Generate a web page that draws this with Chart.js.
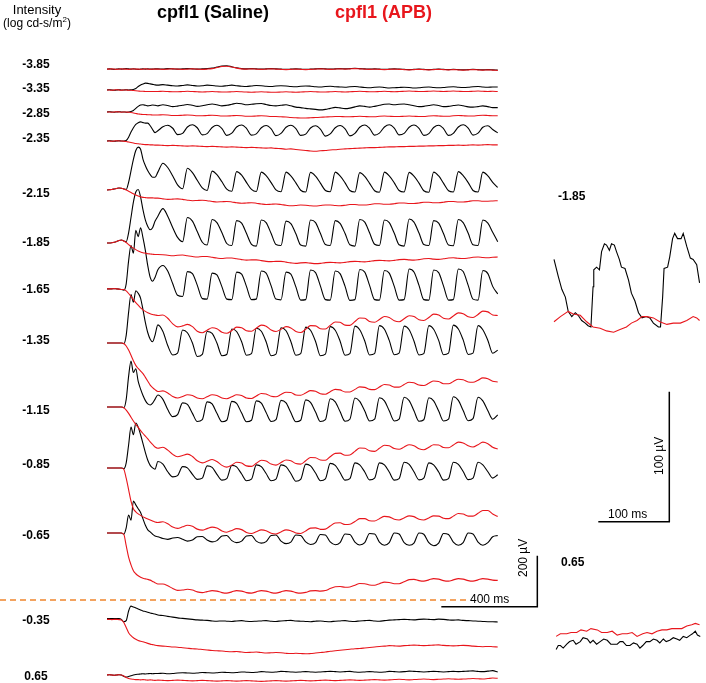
<!DOCTYPE html>
<html><head><meta charset="utf-8">
<script src="https://cdn.jsdelivr.net/npm/chart.js@4.4.1/dist/chart.umd.min.js"></script>
<style>
html,body{margin:0;padding:0;background:#fff;}
#wrap{position:relative;width:706px;height:683px;overflow:hidden;font-family:"Liberation Sans",Arial,sans-serif;color:#000;}
canvas{position:absolute;left:0;top:0;}
.t{position:absolute;white-space:nowrap;}
.rowlbl{position:absolute;left:0;width:72px;text-align:center;font-weight:bold;font-size:12px;line-height:12px;}
</style></head>
<body><div id="wrap">
<canvas id="main" width="706" height="683"></canvas>
<canvas id="inset" width="706" height="683"></canvas>
</div>
<script>
// ---------------- DATA ----------------
// sample times (ms) of the main traces
const t = [0,10,20,30,40,50,60,70,80,90,100,110,120,130,140,150,160,170,180,190,200,
212,233,253,274,294,315,335,356,376,397,417,438,458,479,499,520,540,561,581,602,622,643,663,684,704,725,746,766,787,807,828,848,869,889,910,930,951,971,992,1012,1033,1053,1074,1094,1115,1135,1156,1176,1197,1217,1238,1259,1279,1300,1320,1341,1361,1382,1402,1423,1443,1464,1484,1505,1525,1546,1566,1587,1607,1628];

// intensity labels (log cd-s/m2) and the baseline of each trace pair (µV)
const intensities = ['-3.85','-3.35','-2.85','-2.35','-2.15','-1.85','-1.65','-1.35','-1.15','-0.85','-0.65','-0.35','0.65'];
const offsets = [-271,-353,-439,-553,-745,-953,-1133,-1345,-1596,-1835,-2090,-2426,-2647];

// responses (µV relative to baseline), Saline (black) and APB (red)
const sal_m385 = [0,1,0,-1,0,1,0,1,2,1,0,1,0,-1,0,1,0,1,0,0,1, 1,0,2,1,0,1,2,1,0,1, 2,4,8,12,13,9,5,2,1,2, 1,0,1,2,1,0,-1,0,1,0, -1,0,1,2,1,0,1,2,1,2, 3,2,1,0,1,0,-1,0,1,0, -1,-2,-1,0,-1,-2,-1,0,-1,-2, -1,-2,-3,-2,-1,-2,-3,-2,-3,-4];
const apb_m385 = [0,0,1,0,-1,0,1,0,0,-1,0,1,0,0,-1,0,1,0,-1,0,0, 0,-1,0,1,0,-1,0,1,0,-1, 0,2,6,10,11,8,4,1,0,1, 0,-1,0,1,0,-1,-2,-1,0,-1, -2,-1,0,1,0,-1,0,1,0,1, 2,1,0,-1,0,-1,-2,-1,0,-1, -2,-3,-2,-1,-2,-3,-2,-1,-2,-3, -2,-3,-4,-3,-2,-3,-4,-3,-4,-5];
const sal_m335 = [0,1,0,-1,0,1,0,0,1,0,1,2,6,14,20,24,27,26,24,22,20, 19,21,19,17,16,18,20,18,16,17, 19,18,16,15,17,19,17,15,14,16, 18,17,15,14,16,17,16,14,13,15, 16,15,13,12,14,15,13,12,11,13, 14,12,10,9,11,12,10,8,9,10, 11,10,8,9,11,12,10,9,10,12, 13,11,10,11,13,14,12,11,12,12];
const apb_m335 = [0,0,-1,0,1,0,-1,0,0,-1,-1,-2,-3,-4,-5,-5,-6,-6,-6,-6,-6, -6,-5,-6,-7,-7,-6,-5,-6,-7,-8, -7,-6,-7,-8,-8,-7,-6,-7,-8,-9, -8,-7,-8,-9,-9,-8,-7,-8,-9,-8, -7,-6,-7,-8,-8,-7,-6,-7,-8,-7, -6,-5,-6,-7,-7,-6,-5,-6,-7,-6, -5,-4,-5,-6,-6,-5,-4,-5,-6,-5, -4,-5,-6,-6,-5,-4,-5,-6,-5,-6];
const sal_m285 = [0,1,0,-1,0,1,0,0,-1,0,2,6,14,22,27,28,26,24,25,27,26, 24,28,25,21,23,26,29,26,22,24, 28,31,28,24,26,30,34,32,28,30, 32,33,29,25,24,26,28,24,19,17, 14,12,10,8,10,14,18,16,13,15, 20,24,22,19,22,26,30,31,28,30, 31,28,24,21,22,25,28,25,21,22, 25,27,24,20,19,21,24,21,17,17];
const apb_m285 = [0,0,-1,0,1,0,-1,0,0,-1,-2,-4,-6,-8,-9,-10,-10,-11,-11,-12,-12, -12,-11,-12,-14,-14,-13,-12,-13,-15,-15, -14,-13,-14,-16,-16,-15,-14,-15,-17,-17, -16,-15,-16,-18,-18,-19,-20,-22,-23,-24, -24,-23,-22,-21,-20,-19,-18,-18,-19,-19, -18,-17,-18,-19,-19,-17,-16,-17,-18,-18, -17,-16,-17,-18,-18,-16,-15,-16,-17,-17, -15,-14,-15,-16,-16,-14,-13,-14,-15,-15];
const sal_m235 = [0,1,0,-1,0,1,0,0,2,15,35,52,65,72,75,72,70,70,60,45,33, 40,56,62,50,25, 30,55,64,52,24, 29,53,62,49,22, 31,55,63,50,23, 28,52,61,48,21, 30,54,62,49,22, 27,51,60,47,19, 28,52,61,48,20, 30,54,63,50,23, 31,55,64,51,24, 30,54,63,50,22, 29,53,62,49,22, 30,55,64,51,23, 31,54,60,45,32];
const apb_m235 = [0,0,-1,0,1,0,0,-1,-2,-4,-6,-8,-10,-11,-12,-13,-14,-14,-15,-15,-16, -16,-17,-18,-17,-18,-19,-20,-19,-20,-21, -22,-21,-22,-23,-24,-23,-24,-25,-26,-25, -26,-27,-28,-27,-29,-30,-32,-31,-33,-35, -37,-39,-40,-38,-37,-35,-34,-32,-31,-30, -29,-28,-27,-26,-26,-25,-24,-23,-23,-22, -22,-21,-21,-20,-20,-19,-19,-18,-18,-17, -17,-16,-17,-16,-15,-16,-15,-14,-15,-15];
const sal_m215 = [0,1,2,4,6,8,7,4,2,30,75,120,155,168,160,120,95,75,60,50,50, 70,105,88,55,20, 5,85,68,38,8, -2,74,60,32,3, -5,72,58,30,2, -6,70,56,29,0, -7,70,55,28,-1, -8,69,54,27,-2, -7,70,55,28,-2, -8,68,53,26,-3, -9,70,55,28,-2, -8,69,54,27,-3, -9,70,55,27,-3, -8,72,56,29,-2, -8,70,55,30,10];
const apb_m215 = [0,1,2,4,6,8,7,4,0,-5,-10,-15,-20,-24,-27,-29,-30,-31,-31,-31,-32, -32,-35,-37,-36,-35,-37,-40,-42,-41,-40, -42,-45,-47,-46,-45,-47,-50,-52,-51,-50, -52,-55,-57,-56,-55,-57,-60,-62,-61,-59, -60,-62,-63,-61,-59,-59,-61,-62,-60,-57, -57,-59,-59,-57,-54,-54,-56,-56,-54,-51, -51,-53,-53,-51,-48,-48,-50,-50,-48,-45, -45,-47,-47,-45,-42,-42,-44,-44,-43,-42];
const sal_m185 = [0,0,1,3,6,10,12,8,5,40,100,160,200,210,180,130,90,65,52,60,85, 105,135,105,60,22, 5,100,86,45,3, -8,92,80,40,-2, -10,88,78,38,-5, -12,90,80,37,-6, -10,86,76,36,-8, -12,90,80,38,-6, -10,88,77,37,-7, -12,92,82,40,-5, -10,90,80,38,-7, -12,94,82,39,-6, -10,88,78,37,-8, -11,92,80,38,-7, -10,90,78,42,5];
const apb_m185 = [0,0,1,3,6,10,12,8,2,-6,-14,-20,-26,-31,-35,-38,-40,-42,-43,-44,-45, -45,-46,-48,-50,-48,-47,-50,-53,-55,-53, -53,-56,-59,-61,-59,-59,-62,-65,-67,-66, -66,-69,-72,-73,-72,-72,-75,-78,-80,-78, -77,-79,-81,-80,-77,-76,-77,-78,-76,-73, -72,-73,-74,-72,-69,-68,-69,-70,-68,-65, -64,-66,-67,-65,-62,-61,-63,-64,-62,-59, -58,-60,-61,-59,-56,-55,-57,-58,-56,-55];
const sal_m165 = [0,0,0,1,0,-1,-2,-5,20,110,170,140,230,205,240,200,150,90,45,30,45, 75,92,70,20,-25, -30,68,60,15,-38, -40,62,55,8,-40, -42,66,58,10,-42, -40,70,62,12,-40, -43,66,58,8,-44, -42,74,64,12,-42, -44,70,60,10,-45, -42,76,66,14,-42, -44,72,62,10,-44, -42,78,66,14,-42, -44,74,64,12,-44, -42,78,68,14,-40, -44,72,60,10,-20];
const apb_m165 = [0,0,0,1,0,-1,-2,-2,-8,-18,-30,-42,-54,-64,-74,-82,-88,-93,-97,-100,-102, -104,-102,-115,-137,-149, -145,-139,-148,-166,-172, -162,-152,-156,-170,-174, -163,-150,-152,-164,-166, -154,-142,-146,-161,-167, -158,-148,-153,-167,-171, -158,-144,-145,-156,-157, -143,-130,-131,-142,-143, -128,-114,-115,-128,-131, -120,-108,-112,-125,-129, -117,-105,-108,-121,-124, -112,-99,-102,-115,-118, -106,-94,-97,-109,-112, -100,-87,-90,-102,-104];
const sal_m135 = [0,0,0,0,0,0,0,-3,30,120,190,160,205,195,175,130,80,40,15,5,30, 71,45,-10,-47,-40, 51,40,0,-53,-45, 45,38,0,-50,-45, 55,45,5,-48,-42, 58,46,5,-50,-44, 60,48,6,-48,-42, 62,50,6,-50,-44, 64,50,8,-48,-42, 66,52,8,-47,-42, 68,54,10,-46,-40, 66,52,8,-47,-42, 68,54,10,-46,-40, 70,55,12,-45,-40, 68,52,10,-40,-28];
const apb_m135 = [0,0,0,0,0,0,0,-2,-12,-28,-48,-70,-88,-100,-110,-120,-135,-150,-165,-175,-183, -190,-188,-196,-210,-216, -210,-203,-206,-216,-219, -211,-203,-206,-216,-219, -211,-203,-206,-216,-218, -208,-198,-200,-209,-211, -202,-193,-194,-204,-205, -196,-187,-189,-199,-201, -191,-182,-184,-192,-192, -182,-172,-174,-182,-183, -173,-163,-165,-173,-173, -163,-154,-156,-165,-167, -158,-149,-151,-160,-160, -151,-142,-144,-153,-154, -146,-137,-140,-150,-153];
const sal_m115 = [0,0,0,0,0,0,0,-3,30,120,180,135,150,100,70,45,25,12,8,15,30, 47,30,-10,-38,-30, 16,10,-25,-57,-50, 20,12,-25,-58,-52, 22,14,-24,-58,-52, 24,15,-22,-57,-50, 26,16,-22,-58,-52, 28,18,-20,-57,-50, 32,20,-18,-56,-48, 35,22,-16,-55,-48, 36,24,-15,-55,-48, 38,25,-15,-56,-50, 36,24,-16,-55,-48, 40,26,-14,-54,-46, 38,24,-15,-48,-31];
const apb_m115 = [0,0,0,0,0,0,0,-3,-12,-25,-40,-55,-68,-80,-93,-104,-114,-125,-137,-147,-157, -162,-158,-169,-186,-195, -190,-185,-194,-211,-219, -213,-206,-214,-229,-236, -228,-217,-220,-231,-233, -221,-209,-212,-224,-228, -218,-208,-211,-222,-224, -211,-198,-199,-208,-209, -195,-182,-181,-189,-188, -174,-161,-162,-172,-174, -162,-150,-152,-163,-166, -157,-148,-152,-164,-168, -158,-148,-149,-159,-160, -149,-138,-141,-152,-157, -148,-138,-144,-158,-165];
const sal_m085 = [0,0,0,0,0,0,0,-3,20,90,160,130,176,160,130,95,60,30,10,0,-5, 25,15,-15,-35,-30, 5,0,-25,-45,-40, 8,2,-25,-48,-42, 10,4,-24,-50,-44, 12,5,-22,-50,-44, 12,5,-22,-52,-45, 15,8,-20,-50,-43, 18,10,-18,-48,-42, 20,12,-16,-47,-40, 20,12,-16,-48,-42, 22,14,-15,-47,-40, 20,12,-16,-48,-42, 22,14,-14,-46,-40, 22,12,-15,-40,-27];
const apb_m085 = [0,0,0,0,0,0,0,-5,-40,-85,-130,-160,-172,-180,-186,-192,-196,-200,-204,-208,-212, -214,-211,-219,-232,-237, -231,-225,-229,-240,-244, -238,-232,-236,-247,-252, -245,-238,-242,-253,-257, -250,-243,-246,-256,-259, -251,-243,-246,-255,-257, -247,-236,-235,-241,-240, -228,-216,-215,-222,-221, -210,-199,-199,-207,-208, -199,-190,-192,-201,-204, -196,-188,-191,-201,-204, -196,-188,-189,-197,-199, -189,-179,-181,-189,-189, -178,-167,-167,-181,-190];
const sal_m065 = [0,0,0,0,0,0,0,-5,20,70,50,125,110,95,80,55,30,12,4,-5,-12, -15,-22,-25,-20,-18, -25,-32,-28,-15,-14, -28,-35,-30,-12,-10, -30,-38,-32,-12,-10, -32,-40,-34,-10,-8, -32,-42,-36,-8,-10, -35,-45,-38,-6,-8, -35,-46,-38,-4,-6, -36,-47,-38,-2,-4, -36,-48,-38,0,-4, -38,-48,-40,0,-5, -38,-50,-40,-2,-6, -36,-48,-38,0,-4, -36,-48,-38,-15,-10];
const apb_m065 = [0,0,0,0,0,0,0,-5,-50,-95,-125,-148,-160,-168,-174,-178,-180,-182,-185,-190,-195, -200,-200,-207,-218,-225, -224,-221,-224,-231,-234, -230,-226,-228,-234,-236, -231,-226,-228,-234,-236, -231,-226,-228,-234,-236, -231,-226,-228,-234,-236, -233,-227,-226,-228,-226, -218,-211,-210,-213,-212, -205,-198,-199,-204,-205, -199,-193,-194,-199,-199, -191,-183,-182,-187,-189, -184,-179,-181,-187,-189, -184,-179,-181,-187,-189, -184,-179,-181,-185,-186];
const sal_m035 = [0,0,0,0,0,0,-3,-12,-8,30,49,46,42,38,34,30,28,25,22,20,18, 14,12,9,6,3,1,-1,-3,-5,-6, -7,-9,-10,-9,-10,-11,-9,-8,-10,-11, -10,-9,-8,-10,-11,-9,-8,-7,-9,-10, -11,-12,-10,-9,-11,-12,-10,-9,-8,-10, -11,-9,-8,-7,-9,-10,-8,-6,-5,-4, -3,-4,-5,-3,-2,-3,-4,-2,-3,-5, -6,-5,-7,-8,-9,-10,-11,-12,-12,-13];
const apb_m035 = [-3,-3,-4,-3,-3,-4,-5,-15,-35,-55,-67,-75,-81,-86,-89,-91,-94,-97,-100,-102,-104, -106,-108,-109,-111,-112,-114,-116,-118,-119,-121, -123,-125,-126,-127,-129,-130,-129,-131,-133,-132, -131,-133,-135,-134,-133,-134,-136,-137,-136,-137, -138,-137,-135,-133,-131,-128,-126,-124,-122,-120, -118,-117,-115,-113,-111,-109,-108,-106,-107,-108, -106,-105,-104,-105,-106,-105,-104,-103,-105,-106, -107,-106,-105,-106,-108,-109,-110,-109,-110,-111];
const sal_p065 = [0,1,0,-1,0,1,0,-5,-8,-6,-3,0,2,3,4,5,4,5,6,5,6, 6,7,5,6,8,9,8,7,8,10, 9,8,9,11,10,9,10,12,11,10, 11,13,12,11,12,14,13,12,11,12, 13,12,11,12,13,14,13,12,13,14, 12,11,12,13,12,11,12,14,13,12, 13,15,14,13,12,13,14,13,12,13, 14,13,14,15,16,14,13,15,17,12];
const apb_p065 = [0,1,0,-1,0,1,0,-4,-10,-14,-16,-17,-18,-18,-19,-18,-19,-20,-19,-20,-21, -20,-21,-22,-21,-20,-21,-22,-23,-22,-21, -22,-23,-24,-23,-22,-23,-24,-23,-22,-23, -24,-25,-24,-23,-22,-23,-24,-23,-22,-21, -22,-23,-22,-21,-20,-21,-22,-21,-20,-19, -20,-21,-20,-19,-18,-19,-20,-19,-18,-17, -18,-19,-18,-17,-16,-17,-18,-17,-16,-15, -16,-17,-16,-15,-14,-15,-16,-14,-12,-13];

// inset: expanded view of the -1.85 and 0.65 responses
const insetT_k185 = [0,6,11,16,20,25,30,34,39,44,48,52,55,56,60,64,67,71,74,78,81,85,88,92,95,100,105,109,114,119,124,130,135,140,147,150,153,155,160,163,167,170,174,179,182,187,192,196,201,205];
const insetV_k185 = [52,39,29,23,12,8,11,9,5,3,1,0,31,44,46,44,58,64,63,59,64,63,58,52,46,45,36,26,20,11,7,8,7,3,0,0,23,45,46,54,68,72,68,68,72,62,53,52,48,34];
const insetT_r185 = [0,9,20,27,37,46,55,65,74,84,93,102,109,117,124,131,140,149,159,168,178,187,196,201,205];
const insetV_r185 = [4,8,12,10,9,4,0,-1,-3,-4,-2,0,3,5,8,8,7,4,2,3,3,5,8,7,5];
const insetT_k065 = [3,6,9,13,18,22,27,31,37,41,47,51,55,60,65,70,75,80,89,93,97,102,107,112,117,121,125,130,135,140,145,149,154,158,163,168,173,177,182,187,192,195,199,202,206];
const insetV_k065 = [-3,0,0,-2,1,3,4,1,3,6,5,2,4,1,3,5,4,1,1,3,3,0,0,2,1,-2,0,3,3,5,4,2,5,3,4,6,5,4,7,6,8,9,11,8,7];
const insetT_r065 = [3,9,18,24,32,38,46,52,61,67,75,82,89,96,103,110,117,125,131,138,145,152,159,166,173,180,187,194,199,205];
const insetV_r065 = [7,9,9,10,10,12,11,13,12,10,10,11,8,9,9,10,7,9,10,9,11,12,12,13,13,13,15,16,17,16];
const insetLabels = ['-1.85','0.65'];
const insetOffsets = [0,-245];

// scale bars
const mainBar = {ms:400, uv:200};
const insetBar = {ms:100, uv:100};

// ---------------- DRAWING ----------------
const RED = '#e8161c';
const saline = [sal_m385,sal_m335,sal_m285,sal_m235,sal_m215,sal_m185,sal_m165,sal_m135,sal_m115,sal_m085,sal_m065,sal_m035,sal_p065];
const apb = [apb_m385,apb_m335,apb_m285,apb_m235,apb_m215,apb_m185,apb_m165,apb_m135,apb_m115,apb_m085,apb_m065,apb_m035,apb_p065];

const wrap = document.getElementById('wrap');
function addText(txt, css, cls){ const d=document.createElement('div'); d.className=cls||'t'; d.innerHTML=txt; Object.assign(d.style, css); wrap.appendChild(d); return d; }

let bad = [];
saline.forEach((a,i)=>{ if(a.length!==t.length) bad.push('sal'+i+':'+a.length); });
apb.forEach((a,i)=>{ if(a.length!==t.length) bad.push('apb'+i+':'+a.length); });
if(bad.length) addText('LEN '+bad.join(' '), {left:'300px',top:'660px',color:'blue',fontSize:'10px'});

function trace(vals, off, color, order){
  return {data: t.map((x,i)=>({x:x, y:off+vals[i]})), borderColor:color, borderWidth:1.1, pointRadius:0, showLine:true, cubicInterpolationMode:'monotone', fill:false, order:order};
}
const mainSets = [];
saline.forEach((s,k)=>{ mainSets.push(trace(s, offsets[k], '#000', 2)); mainSets.push(trace(apb[k], offsets[k], RED, 1)); });

// main geometry (ms / µV)
const X_MIN=-445.83, X_MAX=2495.83, Y_MIN=-2678.43, Y_MAX=0;
const barT=1793, barV=-2379;
mainSets.push({data:[{x:barT-mainBar.ms,y:barV},{x:barT,y:barV},{x:barT,y:barV+mainBar.uv}], borderColor:'#000', borderWidth:1.5, pointRadius:0, showLine:true, order:0, clip:false});
mainSets.push({data:[{x:X_MIN,y:-2353},{x:1512,y:-2353}], borderColor:'#f0852d', borderWidth:1.6, borderDash:[6,4], pointRadius:0, showLine:true, order:0, clip:false});

const common = {responsive:false, animation:false, events:[], layout:{padding:0},
  plugins:{legend:{display:false}, tooltip:{enabled:false}, title:{display:false}}};

new Chart(document.getElementById('main'), {type:'scatter', data:{datasets:mainSets},
  options:Object.assign({}, common, {scales:{x:{type:'linear',min:X_MIN,max:X_MAX,display:false}, y:{type:'linear',min:Y_MIN,max:Y_MAX,display:false}}})});

// inset chart
const insetSets = [];
function itrace(ts, vs, off, color, order){ return {data: ts.map((x,i)=>({x:x,y:off+vs[i]})), borderColor:color, borderWidth:1.1, pointRadius:0, showLine:true, tension:0, order:order}; }
insetSets.push(itrace(insetT_k185, insetV_k185, insetOffsets[0], '#000', 2));
insetSets.push(itrace(insetT_r185, insetV_r185, insetOffsets[0], RED, 1));
insetSets.push(itrace(insetT_k065, insetV_k065, insetOffsets[1], '#000', 2));
insetSets.push(itrace(insetT_r065, insetV_r065, insetOffsets[1], RED, 1));
const ibT=162.4, ibV=-149.8;
insetSets.push({data:[{x:ibT-insetBar.ms,y:ibV},{x:ibT,y:ibV},{x:ibT,y:ibV+insetBar.uv}], borderColor:'#000', borderWidth:1.5, pointRadius:0, showLine:true, order:0, clip:false});
new Chart(document.getElementById('inset'), {type:'scatter', data:{datasets:insetSets},
  options:Object.assign({}, common, {scales:{x:{type:'linear',min:-780.28,max:214.08,display:false}, y:{type:'linear',min:-273.85,max:251.54,display:false}}})});

// ---------------- TEXT ----------------
addText('Intensity', {left:'0px',top:'3px',width:'74px',textAlign:'center',fontSize:'13px',lineHeight:'13px'});
addText('(log cd-s/m<sup style="font-size:8px;vertical-align:5px;line-height:0">2</sup>)', {left:'0px',top:'17px',width:'74px',textAlign:'center',fontSize:'12px',lineHeight:'12px'});
addText('cpfl1 (Saline)', {left:'157px',top:'3px',fontSize:'18px',lineHeight:'18px',fontWeight:'bold'});
addText('cpfl1 (APB)', {left:'335px',top:'3px',fontSize:'18px',lineHeight:'18px',fontWeight:'bold',color:RED});
const labelY = [64,88,113,138,193,242,289,340,410,464,535,620,676];
intensities.forEach((s,k)=>{ addText(s, {top:(labelY[k]-6)+'px'}, 'rowlbl'); });
addText(insetLabels[0], {left:'558px',top:'190px',fontSize:'12px',lineHeight:'12px',fontWeight:'bold'});
addText(insetLabels[1], {left:'561px',top:'556px',fontSize:'12px',lineHeight:'12px',fontWeight:'bold'});
addText(mainBar.ms+' ms', {left:'470px',top:'593px',fontSize:'12px',lineHeight:'12px'});
addText(mainBar.uv+' µV', {left:'516.7px',top:'576.5px',fontSize:'12px',lineHeight:'12px',transformOrigin:'0 0',transform:'rotate(-90deg)'});
addText(insetBar.ms+' ms', {left:'608px',top:'508px',fontSize:'12px',lineHeight:'12px'});
addText(insetBar.uv+' µV', {left:'653.4px',top:'474.5px',fontSize:'12px',lineHeight:'12px',transformOrigin:'0 0',transform:'rotate(-90deg)'});
</script>
</body></html>
